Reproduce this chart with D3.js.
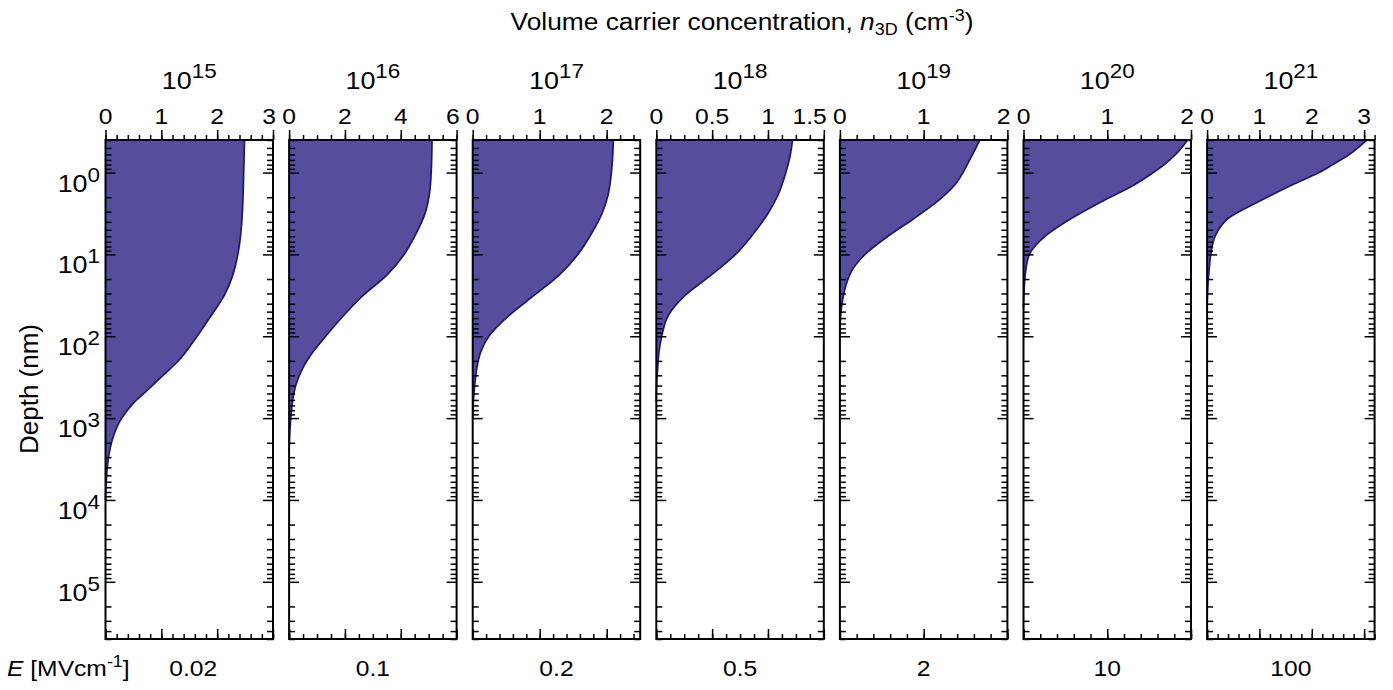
<!DOCTYPE html>
<html lang="en">
<head>
<meta charset="utf-8">
<title>Depth profiles</title>
<script src="https://cdn.jsdelivr.net/npm/d3@7"></script>
<style>
  body { margin: 0; background: #fff; }
  text { font-family: "Liberation Sans", Arial, sans-serif; fill: #000; }
</style>
</head>
<body>
<script>
// ---- data ----
var concExp = ['15', '16', '17', '18', '19', '20', '21'];
var fieldLabels = ['0.02', '0.1', '0.2', '0.5', '2', '10', '100'];
var xMax = [3, 6, 2.5, 1.5, 2, 2, 3.2];
var xMajor = [[0, 1, 2, 3], [0, 2, 4, 6], [0, 1, 2], [0, 0.5, 1, 1.5], [0, 1, 2], [0, 1, 2], [0, 1, 2, 3]];
var xMinorStep = [0.2, 0.5, 0.2, 0.125, 0.2, 0.2, 0.2];
var depthExp = [0, 1, 2, 3, 4, 5];

// depth (nm) and carrier concentration (units of panel) for each field
var depth1 = [0.4, 1, 3.16, 5.8, 10, 17.9, 31.5, 55, 100, 205, 300, 437, 635, 1000, 1600, 2600, 4150, 6600, 10000];
var conc1  = [2.49, 2.475, 2.45, 2.42, 2.37, 2.28, 2.13, 1.90, 1.64, 1.29, 1.03, 0.78, 0.52, 0.29, 0.15, 0.07, 0.03, 0.01, 0];
var depth2 = [0.4, 1, 1.88, 3.16, 5.8, 10, 17.9, 31.5, 55, 100, 155, 248, 396, 635, 1000, 1620, 2600];
var conc2  = [5.12, 5.09, 5.02, 4.87, 4.52, 4.12, 3.50, 2.66, 1.97, 1.31, 0.86, 0.48, 0.24, 0.12, 0.06, 0.02, 0];
var depth3 = [0.4, 1, 1.88, 3.16, 5.8, 10, 17.9, 31.5, 55, 100, 155, 248, 396, 635, 1000];
var conc3  = [2.10, 2.07, 2.02, 1.93, 1.76, 1.57, 1.29, 0.92, 0.55, 0.24, 0.12, 0.06, 0.03, 0.01, 0];
var depth4 = [0.4, 0.61, 1, 1.88, 3.16, 5.8, 10, 17.9, 31.5, 55, 100, 155, 248, 396, 635];
var conc4  = [1.22, 1.20, 1.16, 1.09, 1.0, 0.86, 0.71, 0.49, 0.26, 0.11, 0.048, 0.024, 0.012, 0.003, 0];
var depth5 = [0.4, 0.61, 0.8, 1, 1.42, 2.27, 3.64, 5.84, 10, 15, 21.9, 31.9, 46.6, 68, 100];
var conc5  = [1.67, 1.58, 1.52, 1.47, 1.37, 1.16, 0.885, 0.59, 0.30, 0.155, 0.083, 0.042, 0.017, 0.004, 0];
var depth6 = [0.4, 0.61, 0.8, 1, 1.42, 2.27, 3.64, 5.84, 10, 15, 21.9, 31.9, 46.6];
var conc6  = [1.96, 1.81, 1.68, 1.55, 1.32, 0.93, 0.57, 0.27, 0.07, 0.03, 0.013, 0.004, 0];
var depth7 = [0.4, 0.61, 0.8, 1, 1.42, 2.27, 3.64, 5.84, 10, 15, 21.9, 31.9, 46.6];
var conc7  = [3.05, 2.70, 2.40, 2.14, 1.62, 0.98, 0.40, 0.16, 0.07, 0.04, 0.02, 0.007, 0];

var depths = [depth1, depth2, depth3, depth4, depth5, depth6, depth7];
var concs = [conc1, conc2, conc3, conc4, conc5, conc6, conc7];

// ---- layout ----
var w = 1393, h = 690;
var left0 = 105.5, pitch = 183.6, pw = 167.5;
var yTop = 140, yBot = 639;
var sx = 1.12;   // figure text is a bit wider than Arial

var svg = d3.select('body').append('svg').attr('width', w).attr('height', h);

var y = d3.scaleLog().domain([0.4, 5e5]).range([yTop, yBot]);

var minorY = [];
[-1, 0, 1, 2, 3, 4, 5].forEach(function(e) {
  for (var k = 2; k <= 9; k++) {
    var v = k * Math.pow(10, e);
    if (v >= 0.4 && v <= 5e5) minorY.push(v);
  }
});
var majorY = depthExp.map(function(e) { return Math.pow(10, e); });

function richText(parent, x, yy, anchor, parts) {
  var g = parent.append('g').attr('transform', 'translate(' + x + ',' + yy + ') scale(' + sx + ',1)');
  var t = g.append('text').attr('text-anchor', anchor);
  var off = 0;
  parts.forEach(function(p) {
    var s = t.append('tspan').text(p.t).attr('font-size', p.size);
    var target = p.dy || 0;
    s.attr('dy', target - off);
    off = target;
    if (p.it) s.attr('font-style', 'italic');
  });
  return t;
}

function drawAxis(gen, tx, ty) {
  var a = svg.append('g').attr('transform', 'translate(' + tx + ',' + ty + ')').call(gen);
  a.select('.domain').remove();
  a.selectAll('line').attr('stroke', '#000').attr('stroke-width', 1.5);
}

for (var i = 0; i < 7; i++) {
  var L = left0 + i * pitch;
  var x = d3.scaleLinear().domain([0, xMax[i]]).range([L, L + pw]);
  var pts = depths[i].map(function(d, j) { return { d: d, v: concs[i][j] }; });

  var area = d3.area()
    .curve(d3.curveMonotoneY)
    .y(function(p) { return y(p.d); })
    .x0(x(0))
    .x1(function(p) { return x(p.v); });
  var line = d3.line()
    .curve(d3.curveMonotoneY)
    .y(function(p) { return y(p.d); })
    .x(function(p) { return x(p.v); });

  svg.append('path').datum(pts).attr('d', area).attr('fill', '#564e9c');
  svg.append('path').datum(pts).attr('d', line).attr('fill', 'none')
    .attr('stroke', '#1a1488').attr('stroke-width', 1.7);

  var minorX = d3.range(0, xMax[i] + 1e-9, xMinorStep[i]);

  // top (outward) and bottom (inward) ticks
  drawAxis(d3.axisTop(x).tickValues(xMajor[i]).tickSize(10).tickFormat(''), 0, yTop);
  drawAxis(d3.axisTop(x).tickValues(minorX).tickSize(5).tickFormat(''), 0, yTop);
  drawAxis(d3.axisTop(x).tickValues(xMajor[i]).tickSize(10).tickFormat(''), 0, yBot);
  drawAxis(d3.axisTop(x).tickValues(minorX).tickSize(5).tickFormat(''), 0, yBot);
  // left and right inward log ticks
  drawAxis(d3.axisRight(y).tickValues(majorY).tickSize(10).tickFormat(''), L, 0);
  drawAxis(d3.axisRight(y).tickValues(minorY).tickSize(6).tickFormat(''), L, 0);
  drawAxis(d3.axisLeft(y).tickValues(majorY).tickSize(10).tickFormat(''), L + pw, 0);
  drawAxis(d3.axisLeft(y).tickValues(minorY).tickSize(6).tickFormat(''), L + pw, 0);

  svg.append('rect').attr('x', L).attr('y', yTop).attr('width', pw).attr('height', yBot - yTop)
    .attr('fill', 'none').attr('stroke', '#000').attr('stroke-width', 2);

  // top tick labels
  xMajor[i].forEach(function(v) {
    var atEnd = Math.abs(v - xMax[i]) < 1e-9;
    richText(svg, atEnd ? x(v) + 3 : x(v), 124, atEnd ? 'end' : 'middle', [{ t: String(v), size: 22 }]);
  });

  // concentration decade above panel
  richText(svg, L + pw / 2, 89, 'middle', [{ t: '10', size: 24 }, { t: concExp[i], size: 20, dy: -11 }]);

  // field value below panel
  richText(svg, L + pw / 2 + (i === 0 ? 4 : 0), 676, 'middle', [{ t: fieldLabels[i], size: 22 }]);
}

// depth labels on the first panel
depthExp.forEach(function(e) {
  richText(svg, 100, y(Math.pow(10, e)) + 19, 'end', [{ t: '10', size: 24 }, { t: String(e), size: 20, dy: -10 }]);
});

// titles
richText(svg, 742, 30, 'middle', [
  { t: 'Volume carrier concentration, ', size: 23.5 },
  { t: 'n', size: 23.5, it: true },
  { t: '3D', size: 16, dy: 5 },
  { t: ' (cm', size: 23.5 },
  { t: '-3', size: 16, dy: -9 },
  { t: ')', size: 23.5 }
]);

richText(svg, 7, 676, 'start', [
  { t: 'E', size: 22, it: true },
  { t: ' [MVcm', size: 22 },
  { t: '-1', size: 16, dy: -9 },
  { t: ']', size: 22 }
]);

svg.append('text')
  .attr('transform', 'translate(38,389) rotate(-90)')
  .attr('text-anchor', 'middle')
  .attr('font-size', 26)
  .text('Depth (nm)');
</script>
</body>
</html>
